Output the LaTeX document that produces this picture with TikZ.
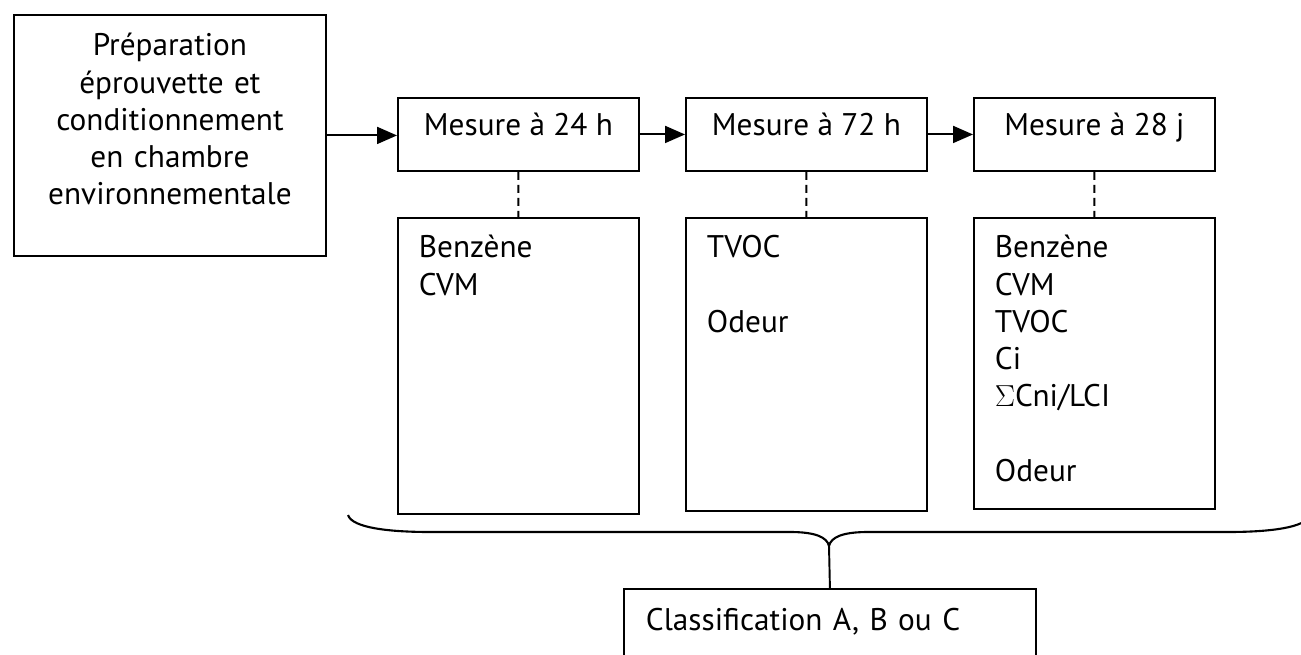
\documentclass[tikz,border=0pt]{standalone}
\usepackage{fontspec}
\setmainfont{PT Sans}
\usepackage{tikz}
\usetikzlibrary{arrows.meta}
\tikzstyle{box}=[draw, rectangle, line width=1.1pt, inner ysep=0pt, anchor=north west, font=\fontsize{17.8pt}{21.2pt}\selectfont]
\tikzstyle{mbox}=[inner xsep=0.42cm, text width=3.98cm, align=left]
\tikzstyle{flow}=[-{Triangle[length=0.4cm,width=0.34cm]}, line width=1.1pt]
\tikzstyle{link}=[dash pattern=on 0.16cm off 0.1cm, line width=1.1pt]

\begin{document}
\begin{tikzpicture}[x=0.02cm,y=-0.02cm]
\useasboundingbox (0,0) rectangle (1301,655);
% preparation of the sample
\node[box, inner xsep=0pt, text width=6.24cm, align=center, text height=0.82cm, text depth=4cm] (prep) at (13,14) {Préparation\\ éprouvette et\\ conditionnement\\ en chambre\\ environnementale};
% the three measuring steps
\foreach \n/\x/\t in {m24/397/{Mesure à 24 h},m72/685/{Mesure à 72 h},m28/973/{Mesure à 28 j}} {
	\node[box, inner xsep=0pt, minimum width=4.82cm, text height=0.76cm, text depth=0.7cm] (\n) at (\x,97) {\t};
}
\node[box, mbox, text height=0.8cm, text depth=5.12cm] (l24) at (397,217) {Benzène\\ CVM};
\node[box, mbox, text height=0.8cm, text depth=5.06cm] (l72) at (685,217) {TVOC\\ ~\\ Odeur};
\node[box, mbox, text height=0.8cm, text depth=5.02cm] (l28) at (973,217) {Benzène\\ CVM\\ TVOC\\ Ci\\ $\Sigma$Cni/LCI\\ ~\\ Odeur};
\draw[flow] (prep.east) -- (prep.east -| m24.west);
\draw[flow] (m24.east) -- (m72.west);
\draw[flow] (m72.east) -- (m28.west);
\draw[link] (m24.south) -- (l24.north);
\draw[link] (m72.south) -- (l72.north);
\draw[link] (m28.south) -- (l28.north);
% brace gathering the results
\coordinate (tip) at (829,546);
\draw[line width=1.2pt] (348,515) .. controls (352,528) and (390,532) .. (430,532) -- (790,532) .. controls (815,532) and (827,537) .. (tip) .. controls (831,537) and (843,532) .. (868,532) -- (1228,532) .. controls (1268,532) and (1306,528) .. (1310,515);
\node[box, inner xsep=0.44cm, text width=7.36cm, align=left, text height=0.84cm, text depth=2cm] (cls) at (623,588) {Classification A, B ou C};
\draw[line width=1.1pt] (tip) -- (cls.north);
\end{tikzpicture}
\end{document}
